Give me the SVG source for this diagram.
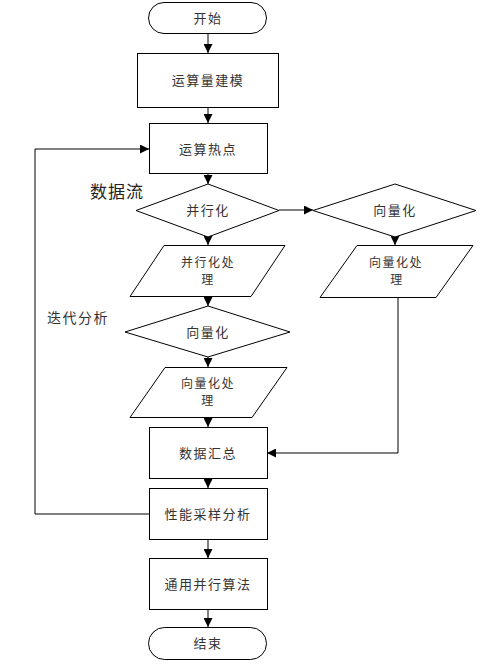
<svg xmlns="http://www.w3.org/2000/svg" width="483" height="665" viewBox="0 0 483 665">
<defs>
<style>
.s{fill:#fff;stroke:#000;stroke-width:1}
.t{font-family:"Noto Sans CJK SC","Liberation Sans",sans-serif;font-size:13px;fill:#333;text-anchor:middle;letter-spacing:1.5px}
.t2{font-family:"Noto Sans CJK SC","Liberation Sans",sans-serif;font-size:12px;fill:#333;text-anchor:middle;letter-spacing:1.5px}
.c{fill:none;stroke:#000;stroke-width:1}
</style>
<marker id="a" viewBox="0 0 10 10" refX="10" refY="5" markerWidth="9" markerHeight="9" markerUnits="userSpaceOnUse" orient="auto">
<path d="M0,0 L10,5 L0,10 Z" fill="#000"/>
</marker>
</defs>
<rect width="483" height="665" fill="#fff"/>
<g id="connectors">
<path class="c" d="M208,33 V53" marker-end="url(#a)"/>
<path class="c" d="M208,108 V123" marker-end="url(#a)"/>
<path class="c" d="M208,174 V184" marker-end="url(#a)"/>
<path class="c" d="M279,210 H313" marker-end="url(#a)"/>
<path class="c" d="M208,237 V245" marker-end="url(#a)"/>
<path class="c" d="M395,237 V245" marker-end="url(#a)"/>
<path class="c" d="M208,297 V306" marker-end="url(#a)"/>
<path class="c" d="M208,357 V367" marker-end="url(#a)"/>
<path class="c" d="M208,417 V427" marker-end="url(#a)"/>
<path class="c" d="M398,297 V453 H267" marker-end="url(#a)"/>
<path class="c" d="M208,479 V488" marker-end="url(#a)"/>
<path class="c" d="M208,539 V558" marker-end="url(#a)"/>
<path class="c" d="M208,610 V627" marker-end="url(#a)"/>
<path class="c" d="M149,514 H35 V149 H149" marker-end="url(#a)"/>
</g>
<g id="start"><rect class="s" x="148.500" y="2.500" width="118" height="31" rx="15.500"/><text class="t" x="208" y="23">开始</text></g>
<g id="model"><rect class="s" x="137.500" y="53.500" width="141" height="54"/><text class="t" x="208" y="85">运算量建模</text></g>
<g id="hotspot"><rect class="s" x="149.500" y="123.500" width="118" height="50"/><text class="t" x="208" y="154">运算热点</text></g>
<text x="90" y="198" style="font-family:'Noto Sans CJK SC',sans-serif;font-size:17px;fill:#222;letter-spacing:1px">数据流</text>
<g id="parallel"><polygon class="s" points="136,210.500 208,184 279,210.500 208,237"/><text class="t" x="208" y="215">并行化</text></g>
<g id="vecR"><polygon class="s" points="313,210.500 395,184 476,210.500 395,237"/><text class="t" x="395" y="215">向量化</text></g>
<g id="parProc"><polygon class="s" points="164,245.500 285,245.500 251,296.500 130,296.500"/><text class="t2" x="208" y="267">并行化处</text><text class="t2" x="208" y="284">理</text></g>
<g id="vecProcR"><polygon class="s" points="357,245.500 473,245.500 436,297.500 320,297.500"/><text class="t2" x="396" y="267">向量化处</text><text class="t2" x="397" y="284">理</text></g>
<text x="47" y="323" style="font-family:'Noto Sans CJK SC',sans-serif;font-size:14px;fill:#333;letter-spacing:1.5px">迭代分析</text>
<g id="vecL"><polygon class="s" points="125,332 208,306 290,332 208,357"/><text class="t" x="208" y="337">向量化</text></g>
<g id="vecProcL"><polygon class="s" points="165,367.500 287,367.500 252,417.500 130,417.500"/><text class="t2" x="208" y="388">向量化处</text><text class="t2" x="208" y="405">理</text></g>
<g id="gather"><rect class="s" x="149.500" y="427.500" width="118" height="51"/><text class="t" x="208" y="458">数据汇总</text></g>
<g id="perf"><rect class="s" x="149.500" y="488.500" width="118" height="51"/><text class="t" x="208" y="519">性能采样分析</text></g>
<g id="algo"><rect class="s" x="149.500" y="558.500" width="118" height="51"/><text class="t" x="208" y="589">通用并行算法</text></g>
<g id="end"><rect class="s" x="148.500" y="627.500" width="118" height="32" rx="16"/><text class="t" x="208" y="648">结束</text></g>
</svg>
